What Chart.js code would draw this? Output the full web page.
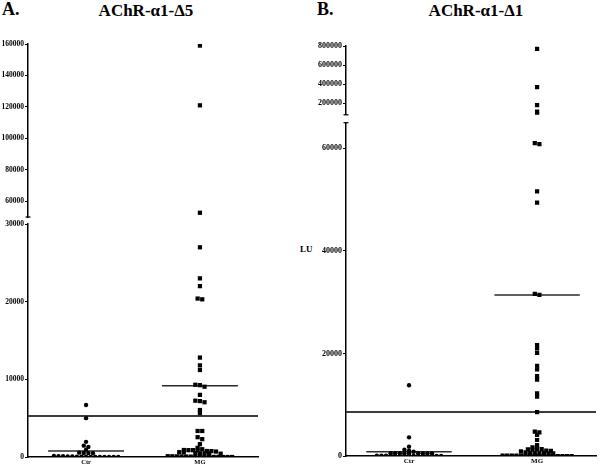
<!DOCTYPE html>
<html>
<head>
<meta charset="utf-8">
<script src="https://cdn.jsdelivr.net/npm/chart.js@4.4.1/dist/chart.umd.min.js"></script>
<style>
  html, body { margin: 0; padding: 0; background: #fff; }
  #wrap { position: relative; width: 600px; height: 467px; overflow: hidden; background: #fff; }
  canvas { position: absolute; }
  .t { position: absolute; font-family: 'Liberation Serif', 'Times New Roman', serif; font-weight: bold; color: #000; white-space: nowrap; }
</style>
</head>
<body>
<div id="wrap">
  <div class="t" style="left:2px;top:0px;font-size:18px;line-height:18px;">A.</div>
  <div class="t" style="left:46px;top:2px;width:200px;text-align:center;font-size:17px;line-height:17px;">AChR-α1-Δ5</div>
  <div class="t" style="left:317px;top:0px;font-size:18px;line-height:18px;">B.</div>
  <div class="t" style="left:376px;top:2px;width:200px;text-align:center;font-size:17px;line-height:17px;">AChR-α1-Δ1</div>
  <div class="t" style="left:300px;top:245px;font-size:9px;line-height:9px;">LU</div>
  <canvas id="aTop" width="300" height="185" style="left:0px;top:38px;width:300px;height:185px;"></canvas>
  <canvas id="aBot" width="300" height="249" style="left:0px;top:218px;width:300px;height:249px;"></canvas>
  <canvas id="bTop" width="300" height="80" style="left:300px;top:40px;width:300px;height:80px;"></canvas>
  <canvas id="bBot" width="300" height="351" style="left:300px;top:116px;width:300px;height:351px;"></canvas>
</div>
<script>
// ---------------- data ----------------
const categories = ['Ctr', 'MG'];

// Panel A: AChR-α1-Δ5
const aCtr = [6700, 5000, 1950, 1300, 1460, 940, 560, 520, 500, 480,
  120, 100, 90, 80, 60, 50, 40, 30, 20, 20, 10, 10, 0, 0, 0];
const aMG = [159000, 121000, 52700, 27000, 23000, 22000, 20400, 20300,
  12800, 11800, 11200, 9300, 9050, 9250, 8000, 7250, 7050, 7200, 6050, 5650,
  3350, 3350, 2550, 2300, 1650, 1180,
  1000, 900, 880, 850, 770, 760, 700, 880,
  620, 600, 480, 480, 470, 490, 430,
  100, 90, 80, 70, 60, 50, 40, 30, 20, 20, 10, 10, 0, 0, 0];
const aMeans = [770, 9180];
const aCutoff = 5280;
const aTopTicks = [60000, 80000, 100000, 120000, 140000, 160000];
const aBotTicks = [0, 10000, 20000, 30000];

// Panel B: AChR-α1-Δ1
const bCtr = [13800, 3640, 1820, 1230, 1040, 840,
  560, 540, 530, 520, 510, 520, 540, 550, 560,
  80, 60, 50, 40, 30, 20, 20, 10, 10, 0, 0, 0, 0, 0, 0];
const bMG = [770000, 370000, 180000, 112000, 85000,
  61000, 60800, 51600, 49400, 31600, 31400, 21600, 21000, 20100,
  17600, 16900, 15600, 14900, 12200, 11600, 8550,
  4740, 4600, 4100, 3120, 2140, 1700,
  1400, 1350, 1300, 1050, 1000, 1250,
  900, 720, 560, 540, 520, 520, 540, 560,
  90, 80, 70, 60, 50, 40, 30, 20, 20, 10, 10, 0, 0, 0, 0, 0];
const bMeans = [840, 31400];
const bCutoff = 8580;
const bTopTicks = [200000, 400000, 600000, 800000];
const bBotTicks = [0, 20000, 40000, 60000];

// ---------------- helpers ----------------
const FONT = "'Liberation Serif', 'Times New Roman', serif";
const MEAN_HALF = 1 / 3;

// column-scatter spreading (pixel space): near-equal values share a centred row,
// rows that almost coincide vertically push each other sideways
function swarm(pys, s, d, dyLimit) {
  const idx = pys.map((p, i) => i).sort((a, b) => pys[a] - pys[b]);
  const placed = [];
  const off = new Array(pys.length).fill(0);
  let k = 0;
  while (k < idx.length) {
    const row = [idx[k]];
    const y0 = pys[idx[k]];
    let j = k + 1;
    while (j < idx.length && pys[idx[j]] - y0 < 2) { row.push(idx[j]); j++; }
    const n = row.length;
    const ideal = row.map((_, r) => (r - (n - 1) / 2) * s);
    const order = row.map((_, r) => r).sort((a, b) => Math.abs(ideal[a]) - Math.abs(ideal[b]));
    for (const r of order) {
      const id = row[r];
      const py = pys[id];
      const hits = (x) => placed.some(p => Math.abs(p.y - py) < dyLimit && (p.x - x) ** 2 + (p.y - py) ** 2 < d * d - 0.01);
      let o = ideal[r];
      const sg = o > 0.001 ? 1 : (o < -0.001 ? -1 : 0);
      if (sg !== 0) {
        let step = 0;
        while (hits(o + sg * step) && step < 200) step += s / 2;
        o = o + sg * step;
      } else {
        let m = 0;
        while (m < 400) {
          const c = m === 0 ? 0 : (m % 2 ? 1 : -1) * Math.ceil(m / 2) * s / 2;
          if (!hits(c)) { o = c; break; }
          m++;
        }
      }
      off[id] = o;
      placed.push({ x: o, y: py });
    }
    k = j;
  }
  return off;
}

const capPlugin = {
  id: 'caps',
  afterDraw(chart, args, opts) {
    const ctx = chart.ctx;
    const a = chart.chartArea;
    ctx.save();
    ctx.strokeStyle = '#000';
    ctx.lineWidth = 1.2;
    (opts.ends || []).forEach(e => {
      const y = e === 'bottom' ? a.bottom : a.top;
      ctx.beginPath();
      ctx.moveTo(a.left - 2.5, y);
      ctx.lineTo(a.left + 2.5, y);
      ctx.stroke();
    });
    ctx.restore();
  }
};

function makeChart(id, cfg) {
  const groups = cfg.groups;
  const datasets = [];
  groups.forEach((vals, i) => {
    const pts = vals.filter(v => v >= cfg.yMin && v <= cfg.yMax).map(v => ({ x: i + 1, y: v }));
    datasets.push({
      type: 'scatter',
      label: categories[i],
      data: pts,
      pointStyle: i === 0 ? 'circle' : 'rect',
      pointRadius: i === 0 ? 2.2 : 3.0,
      backgroundColor: '#000',
      borderColor: '#000',
      borderWidth: 0,
      order: 1
    });
  });
  cfg.means.forEach((m, i) => {
    if (m >= cfg.yMin && m <= cfg.yMax) {
      datasets.push({
        type: 'line',
        data: [{ x: i + 1 - MEAN_HALF, y: m }, { x: i + 1 + MEAN_HALF, y: m }],
        borderColor: '#2a2a2a', borderWidth: 1.5, pointRadius: 0, order: 2
      });
    }
  });
  if (cfg.cutoff >= cfg.yMin && cfg.cutoff <= cfg.yMax) {
    datasets.push({
      type: 'line',
      data: [{ x: cfg.xMin, y: cfg.cutoff }, { x: cfg.xMax, y: cfg.cutoff }],
      borderColor: '#3c3c3c', borderWidth: 2, pointRadius: 0, order: 3
    });
  }
  const chart = new Chart(document.getElementById(id), {
    type: 'scatter',
    data: { datasets },
    options: {
      responsive: false,
      devicePixelRatio: 1,
      animation: false,
      events: [],
      layout: { padding: cfg.padding },
      plugins: { legend: { display: false }, tooltip: { enabled: false }, caps: { ends: cfg.caps } },
      scales: {
        x: {
          type: 'linear',
          min: cfg.xMin, max: cfg.xMax,
          display: cfg.showX,
          grid: { display: false, drawTicks: false, tickLength: 0 },
          border: { display: true, color: '#000', width: 1.5 },
          afterBuildTicks: s => { s.ticks = categories.map((c, i) => ({ value: i + 1 })); },
          afterFit: s => { s.height = cfg.showX ? 10 : 0; },
          ticks: {
            autoSkip: false, maxRotation: 0, padding: 2,
            color: '#000',
            font: { family: FONT, weight: 'bold', size: cfg.xFont, lineHeight: 1 },
            callback: (v, i) => categories[i]
          }
        },
        y: {
          type: 'linear',
          min: cfg.yMin, max: cfg.yMax,
          afterBuildTicks: s => { s.ticks = cfg.ticks.map(v => ({ value: v })); },
          afterFit: s => { s.width = cfg.axisWidth; },
          grid: { display: true, drawOnChartArea: false, drawTicks: true, tickLength: 3, color: '#000', lineWidth: 1 },
          border: { display: true, color: '#000', width: 1.5 },
          ticks: {
            padding: 1, color: '#000',
            font: { family: FONT, weight: 'bold', size: cfg.yFont, lineHeight: 1 },
            callback: v => String(v)
          }
        }
      }
    },
    plugins: [capPlugin]
  });
  const xs = chart.scales.x, ys = chart.scales.y;
  const pxPerUnit = xs.getPixelForValue(2) - xs.getPixelForValue(1);
  chart.data.datasets.forEach((ds, i) => {
    if (ds.type !== 'scatter') return;
    const pys = ds.data.map(p => ys.getPixelForValue(p.y));
    const off = swarm(pys, 4.6, 4.3, 2.2);
    ds.data.forEach((p, k) => { p.x = (i + 1) + off[k] / pxPerUnit; });
  });
  chart.update('none');
  return chart;
}

// ---------------- charts ----------------
makeChart('aTop', {
  groups: [aCtr, aMG], means: aMeans, cutoff: aCutoff,
  yMin: 50000, yMax: 160000, ticks: aTopTicks,
  xMin: 0.49, xMax: 2.51, showX: false, axisWidth: 28,
  padding: { top: 6, bottom: 6, left: 0, right: 42 },
  yFont: 7.5, xFont: 6, caps: ['bottom']
});
makeChart('aBot', {
  groups: [aCtr, aMG], means: aMeans, cutoff: aCutoff,
  yMin: 0, yMax: 30000, ticks: aBotTicks,
  xMin: 0.49, xMax: 2.51, showX: true, axisWidth: 28,
  padding: { top: 6, bottom: 0, left: 0, right: 42 },
  yFont: 7.5, xFont: 6.5, caps: []
});
makeChart('bTop', {
  groups: [bCtr, bMG], means: bMeans, cutoff: bCutoff,
  yMin: 80000, yMax: 800000, ticks: bTopTicks,
  xMin: 0.508, xMax: 2.46, showX: false, axisWidth: 46,
  padding: { top: 6, bottom: 5.2, left: 0, right: 4 },
  yFont: 8, xFont: 7, caps: ['bottom']
});
makeChart('bBot', {
  groups: [bCtr, bMG], means: bMeans, cutoff: bCutoff,
  yMin: 0, yMax: 65000, ticks: bBotTicks,
  xMin: 0.508, xMax: 2.46, showX: true, axisWidth: 46,
  padding: { top: 6.7, bottom: 1, left: 0, right: 4 },
  yFont: 8, xFont: 7, caps: ['top']
});
</script>
</body>
</html>
